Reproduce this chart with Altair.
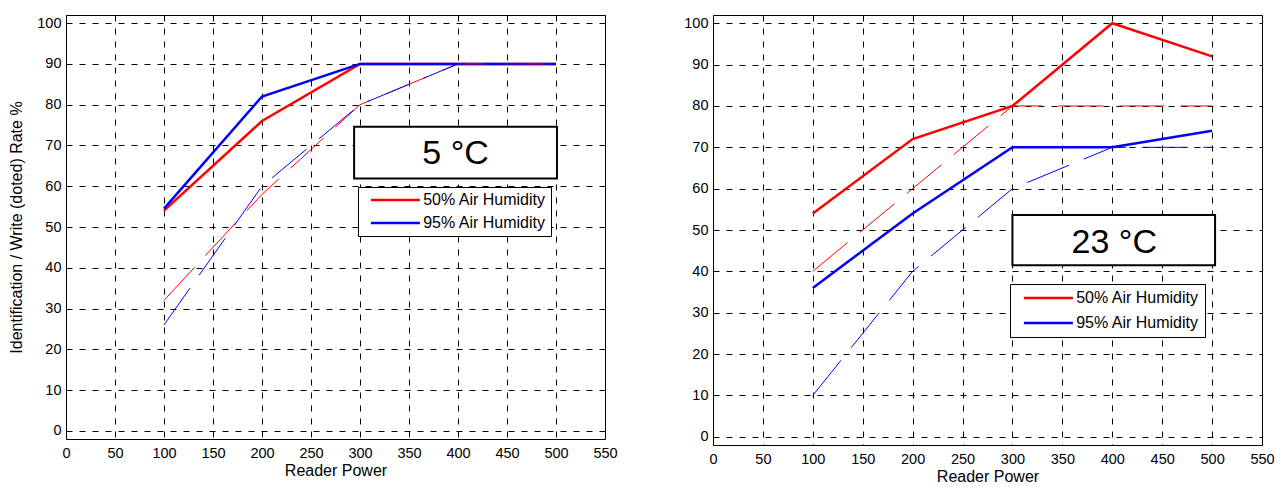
import altair as alt
import pandas as pd

# ---------------- data ----------------
power = [100, 200, 300, 400, 500]

# 5 °C panel
read_50_5c = [54, 76, 90, 90, 90]
read_95_5c = [54.5, 82, 90, 90, 90]
write_50_5c = [32, 58, 80, 90, 90]
write_95_5c = [26, 60, 80, 90, 90]

# 23 °C panel
read_50_23c = [54, 72, 80, 100, 92]
read_95_23c = [36, 54, 70, 70, 74]
write_50_23c = [40, 60, 80, 80, 80]
write_95_23c = [10, 40, 60, 70, 70]

humidity = ["50% Air Humidity", "95% Air Humidity"]
colors = ["#ff0000", "#0000ff"]
panel_labels = ["5 °C", "23 °C"]
x_ticks = list(range(0, 551, 50))
y_ticks = list(range(0, 101, 10))

FONT = "Liberation Sans"


def long_df(r50, r95, w50, w95):
    rows = []
    for kind, h, vals in [("read", humidity[0], r50), ("read", humidity[1], r95),
                          ("write", humidity[0], w50), ("write", humidity[1], w95)]:
        for p, v in zip(power, vals):
            rows.append({"power": p, "rate": v, "humidity": h, "kind": kind})
    return pd.DataFrame(rows)


def panel(df, label, box, text_xy, legend_xy, width, height, y_title,
          leg_pad=5, leg_row=7):
    xs = alt.Scale(domain=[0, 550], nice=False, zero=False)
    ys = alt.Scale(domain=[-2, 102], nice=False, zero=False)
    common = dict(grid=True, gridDash=[6, 7], gridColor="#000000", gridOpacity=1,
                  domain=False, ticks=False, labelFont=FONT, labelFontSize=14.5,
                  labelColor="#000000", titleFont=FONT, titleFontSize=16,
                  titleFontWeight="normal", titleColor="#000000",
                  labelFlush=False, labelOverlap=False)
    x_axis = alt.Axis(values=x_ticks, title="Reader Power", labelPadding=7,
                      titlePadding=3, **common)
    if y_title:
        y_axis = alt.Axis(values=y_ticks, title=y_title, labelPadding=5,
                          titlePadding=12, **common)
    else:
        y_axis = alt.Axis(values=y_ticks, title=None, labelPadding=5, **common)
    cscale = alt.Scale(domain=humidity, range=colors)
    # symbol: a 49px horizontal line drawn with a path wider than the unit box
    legend = alt.Legend(title=None, orient="none", legendX=legend_xy[0],
                        legendY=legend_xy[1], symbolType="M-4,0H4",
                        symbolSize=150, symbolStrokeWidth=2.5,
                        symbolOffset=24.4, labelOffset=19.8,
                        labelFont=FONT, labelFontSize=16, labelColor="#000000",
                        strokeColor="#000000", fillColor="#ffffff",
                        padding=leg_pad, rowPadding=leg_row)
    base = alt.Chart(df)
    read = base.transform_filter(alt.datum.kind == "read").mark_line(
        strokeWidth=2.5).encode(
        x=alt.X("power:Q", scale=xs, axis=x_axis),
        y=alt.Y("rate:Q", scale=ys, axis=y_axis),
        color=alt.Color("humidity:N", scale=cscale, legend=legend),
    )
    write = base.transform_filter(alt.datum.kind == "write").mark_line(
        strokeWidth=1, strokeDash=[45, 16]).encode(
        x=alt.X("power:Q", scale=xs, axis=x_axis),
        y=alt.Y("rate:Q", scale=ys, axis=y_axis),
        color=alt.Color("humidity:N", scale=cscale, legend=None),
    )
    lab = alt.Chart(pd.DataFrame({"label": [label]}))
    rect = lab.mark_rect(fill="#ffffff", stroke="#000000", strokeWidth=2).encode(
        x=alt.datum(box[0]), x2=alt.datum(box[1]),
        y=alt.datum(box[2]), y2=alt.datum(box[3]),
    )
    text = lab.mark_text(font=FONT, fontSize=34, color="#000000",
                         align="center", baseline="middle").encode(
        x=alt.datum(text_xy[0]), y=alt.datum(text_xy[1]), text="label:N",
    )
    return alt.layer(read, write, rect, text).properties(width=width, height=height)


left = panel(long_df(read_50_5c, read_95_5c, write_50_5c, write_95_5c),
             panel_labels[0], (294, 501, 74.6, 61.9), (397.5, 67.8), (292, 172),
             539, 424, "Identification / Write (doted) Rate %")
right = panel(long_df(read_50_23c, read_95_23c, write_50_23c, write_95_23c),
              panel_labels[1], (300, 503, 53.6, 41.5), (402, 46.9), (297, 269),
              549, 430, None, leg_pad=6, leg_row=9)

chart = alt.hconcat(left, right, spacing=65).resolve_scale(
    color="independent").resolve_legend(color="independent").properties(
    padding={"top": 14, "left": 8, "right": 0, "bottom": 0},
    background="#ffffff",
).configure_view(stroke="#000000", strokeWidth=1)

chart.save("out.html", embed_options={"renderer": "svg", "actions": False})
